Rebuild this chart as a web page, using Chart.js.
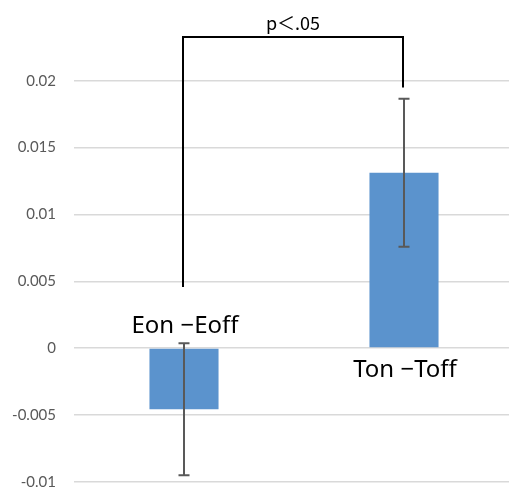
<!DOCTYPE html>
<html>
<head>
<meta charset="utf-8">
<script src="https://cdn.jsdelivr.net/npm/chart.js@4/dist/chart.umd.min.js"></script>
<style>
html,body{margin:0;padding:0;background:#fff;overflow:hidden;width:509px;height:487px;}
#wrap{position:absolute;left:0;top:0;width:514px;height:487px;}
</style>
</head>
<body>
<div id="wrap"><canvas id="c" width="514" height="487"></canvas></div>
<script>
// ---- data ----
const categories = ['Eon −Eoff', 'Ton −Toff'];
const means = [-0.00457, 0.01312];
const errors = [0.00494, 0.00554];
const yMin = -0.01;
const yMax = 0.025;
const yStep = 0.005;
const sigLabel = 'p＜.05';
const bracketEnds = [0.00457, 0.0195];
const bracketTop = 0.02328;

const fmt = v => {
  const r = Math.round(v * 10000) / 10000;
  return String(r);
};

const overlay = {
  id: 'overlay',
  afterDatasetsDraw(chart) {
    const ctx = chart.ctx;
    const x = chart.scales.x, y = chart.scales.y;
    ctx.save();
    // error bars
    ctx.strokeStyle = '#595959';
    ctx.lineWidth = 2;
    means.forEach((m, i) => {
      const cx = Math.round(x.getPixelForValue(i));
      const yt = y.getPixelForValue(m + errors[i]);
      const yb = y.getPixelForValue(m - errors[i]);
      ctx.beginPath();
      ctx.moveTo(cx, yt); ctx.lineTo(cx, yb);
      ctx.moveTo(cx - 5.5, yt); ctx.lineTo(cx + 5.5, yt);
      ctx.moveTo(cx - 5.5, yb); ctx.lineTo(cx + 5.5, yb);
      ctx.stroke();
    });
    // significance bracket
    ctx.strokeStyle = '#000';
    ctx.lineWidth = 2;
    const x0 = Math.round(x.getPixelForValue(0)) - 1;
    const x1 = Math.round(x.getPixelForValue(1)) - 1;
    const yTop = y.getPixelForValue(bracketTop);
    ctx.beginPath();
    ctx.moveTo(x0, y.getPixelForValue(bracketEnds[0]));
    ctx.lineTo(x0, yTop);
    ctx.lineTo(x1, yTop);
    ctx.lineTo(x1, y.getPixelForValue(bracketEnds[1]));
    ctx.stroke();
    ctx.fillStyle = '#000';
    ctx.font = '18px "Noto Sans CJK JP", "Noto Sans", sans-serif';
    ctx.textAlign = 'center';
    ctx.textBaseline = 'alphabetic';
    ctx.fillText(sigLabel, (x0 + x1) / 2, yTop - 7);
    // category labels
    ctx.font = '24px "Noto Sans", sans-serif';
    const labelPos = [0.0011, -0.0022];
    categories.forEach((c, i) => {
      ctx.fillText(c, x.getPixelForValue(i) + 1, y.getPixelForValue(labelPos[i]));
    });
    ctx.restore();
  }
};

new Chart(document.getElementById('c'), {
  type: 'bar',
  data: {
    labels: categories,
    datasets: [{
      data: means,
      backgroundColor: '#5B93CD',
      borderWidth: 0,
      categoryPercentage: 1,
      barPercentage: 0.314
    }]
  },
  options: {
    responsive: false,
    animation: false,
    devicePixelRatio: 1,
    layout: { padding: { top: 14, bottom: 5.3, left: 0, right: 0 } },
    plugins: { legend: { display: false }, tooltip: { enabled: false } },
    scales: {
      x: { display: false },
      y: {
        min: yMin, max: yMax,
        afterFit: s => { s.width = 74; s.paddingTop = 0; s.paddingBottom = 0; },
        border: { display: false },
        grid: { color: '#d9d9d9', lineWidth: 1.5, drawTicks: false },
        ticks: {
          stepSize: yStep,
          padding: 18,
          color: '#595959',
          font: { family: 'Lato, "Open Sans", sans-serif', size: 15 },
          callback: v => (Math.abs(v - yMax) < 1e-9 ? null : fmt(v))
        }
      }
    }
  },
  plugins: [overlay]
});
</script>
</body>
</html>
